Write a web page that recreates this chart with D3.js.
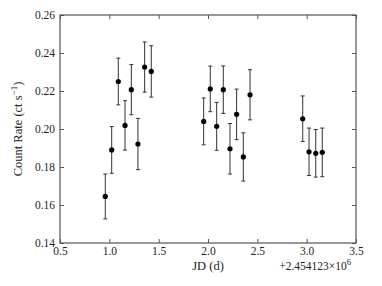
<!DOCTYPE html>
<meta charset="utf-8">
<script src="https://d3js.org/d3.v7.min.js"></script>
<style>
  body { margin: 0; background: #fff; }
  text { font-family: "Liberation Serif", "DejaVu Serif", serif; fill: #222; }
</style>
<div id="chart"></div>
<script>
  // JD offsets (d, +2454123) with count rate and 1-sigma errors
  var jd = [0.959, 1.024, 1.091, 1.159, 1.223, 1.290, 1.358, 1.425,
            1.956, 2.023, 2.088, 2.155, 2.223, 2.290, 2.358, 2.426,
            2.960, 3.024, 3.092, 3.158];
  var rate = [0.1645, 0.1890, 0.2250, 0.2019, 0.2207, 0.1921, 0.2326, 0.2303,
              0.2040, 0.2211, 0.2014, 0.2207, 0.1896, 0.2077, 0.1853, 0.2180,
              0.2054, 0.1880, 0.1872, 0.1877];
  var err = [0.0118, 0.0123, 0.0123, 0.0130, 0.0132, 0.0135, 0.0132, 0.0135,
             0.0123, 0.0120, 0.0126, 0.0125, 0.0133, 0.0133, 0.0127, 0.0132,
             0.0120, 0.0125, 0.0125, 0.0128];
  var xTicks = [0.5, 1.0, 1.5, 2.0, 2.5, 3.0, 3.5];
  var yTicks = [0.14, 0.16, 0.18, 0.20, 0.22, 0.24, 0.26];

  var data = jd.map(function (d, i) { return { x: d, y: rate[i], e: err[i] }; });

  var W = 382, H = 286;
  var margin = { top: 15, right: 26, bottom: 43, left: 60 },
    width = W - margin.left - margin.right,
    height = H - margin.top - margin.bottom;

  var x = d3.scaleLinear().domain([0.5, 3.5]).range([0, width]);
  var y = d3.scaleLinear().domain([0.14, 0.26]).range([height, 0]);

  var svg = d3.select("#chart").append("svg")
    .attr("width", W).attr("height", H)
    .append("g")
    .attr("transform", "translate(" + margin.left + "," + margin.top + ")");

  var tl = 4;
  var axisColor = "#555";

  // ticks on all four sides, pointing in
  function addAxis(axis, tr) {
    var g = svg.append("g").attr("transform", tr).call(axis);
    g.select(".domain").remove();
    g.selectAll("line").attr("stroke", axisColor);
    g.selectAll("text").style("font-size", "11.5px").style("font-family", "'Liberation Serif', serif").attr("fill", "#222");
    return g;
  }
  addAxis(d3.axisBottom(x).tickValues(xTicks).tickFormat(d3.format(".1f")).tickSize(-tl).tickPadding(4),
    "translate(0," + height + ")");
  addAxis(d3.axisTop(x).tickValues(xTicks).tickFormat("").tickSize(-tl), "translate(0,0)");
  addAxis(d3.axisLeft(y).tickValues(yTicks).tickFormat(d3.format(".2f")).tickSize(-tl).tickPadding(5),
    "translate(0,0)");
  addAxis(d3.axisRight(y).tickValues(yTicks).tickFormat("").tickSize(-tl), "translate(" + width + ",0)");

  svg.append("rect")
    .attr("x", 0).attr("y", 0).attr("width", width).attr("height", height)
    .attr("fill", "none").attr("stroke", axisColor).attr("stroke-width", 1.2);

  // error bars
  var pts = svg.append("g").selectAll("g").data(data).enter().append("g");
  pts.append("line")
    .attr("x1", function (d) { return x(d.x); }).attr("x2", function (d) { return x(d.x); })
    .attr("y1", function (d) { return y(d.y - d.e); }).attr("y2", function (d) { return y(d.y + d.e); })
    .attr("stroke", "#333").attr("stroke-width", 1);
  [-1, 1].forEach(function (s) {
    pts.append("line")
      .attr("x1", function (d) { return x(d.x) - 2; }).attr("x2", function (d) { return x(d.x) + 2; })
      .attr("y1", function (d) { return y(d.y + s * d.e); }).attr("y2", function (d) { return y(d.y + s * d.e); })
      .attr("stroke", "#333").attr("stroke-width", 1);
  });
  pts.append("circle")
    .attr("cx", function (d) { return x(d.x); })
    .attr("cy", function (d) { return y(d.y); })
    .attr("r", 2.6).attr("fill", "#000");

  // labels
  svg.append("text")
    .attr("text-anchor", "middle")
    .attr("transform", "translate(" + (-38) + "," + (height / 2) + ")rotate(-90)")
    .style("font-size", "12.5px")
    .html("Count Rate (ct s<tspan dy='-5' font-size='9px'>\u22121</tspan><tspan dy='5'>)</tspan>");

  svg.append("text")
    .attr("text-anchor", "middle")
    .attr("x", width / 2).attr("y", height + 27)
    .style("font-size", "12.5px")
    .text("JD (d)");

  svg.append("text")
    .attr("text-anchor", "end")
    .attr("x", width - 5).attr("y", height + 27)
    .style("font-size", "11.5px")
    .html("+2.454123\u00d710<tspan dy='-5' font-size='8.5px'>6</tspan>");
</script>
